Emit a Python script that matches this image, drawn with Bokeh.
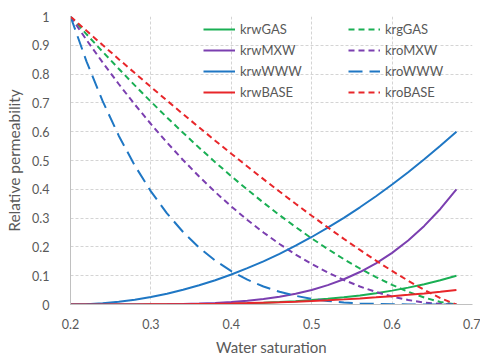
from bokeh.plotting import figure
from bokeh.models import Legend, LegendItem, FixedTicker, ColumnDataSource
from bokeh.embed import file_html
from bokeh.resources import INLINE

# Water saturation
sw = [0.20, 0.22, 0.24, 0.26, 0.28, 0.30, 0.32, 0.34, 0.36, 0.38, 0.40, 0.42, 0.44,
      0.46, 0.48, 0.50, 0.52, 0.54, 0.56, 0.58, 0.60, 0.62, 0.64, 0.66, 0.68]

krw_gas = [0, 0, 0.0000, 0.0000, 0.0001, 0.0002, 0.0004, 0.0007, 0.0012, 0.0020, 0.0030,
           0.0044, 0.0063, 0.0086, 0.0116, 0.0153, 0.0198, 0.0252, 0.0316, 0.0393, 0.0482,
           0.0586, 0.0706, 0.0844, 0.1000]
krg_gas = [1.0, 0.9382, 0.8777, 0.8185, 0.7607, 0.7044, 0.6495, 0.5962, 0.5443, 0.4941,
           0.4455, 0.3987, 0.3536, 0.3103, 0.2690, 0.2296, 0.1925, 0.1575, 0.1250, 0.0951,
           0.0680, 0.0442, 0.0241, 0.0085, 0.0]
krw_mxw = [0, 0, 0.0000, 0.0000, 0.0002, 0.0004, 0.0009, 0.0018, 0.0032, 0.0053, 0.0085,
           0.0129, 0.0189, 0.0270, 0.0373, 0.0506, 0.0672, 0.0877, 0.1128, 0.1431, 0.1793,
           0.2223, 0.2728, 0.3317, 0.4000]
kro_mxw = [1.0, 0.9184, 0.8403, 0.7656, 0.6944, 0.6267, 0.5625, 0.5017, 0.4444, 0.3906,
           0.3403, 0.2934, 0.2500, 0.2101, 0.1736, 0.1406, 0.1111, 0.0851, 0.0625, 0.0434,
           0.0278, 0.0156, 0.0069, 0.0017, 0.0]
krw_www = [0, 0.0010, 0.0042, 0.0094, 0.0167, 0.0260, 0.0375, 0.0511, 0.0667, 0.0844,
           0.1042, 0.1261, 0.1500, 0.1760, 0.2042, 0.2344, 0.2667, 0.3010, 0.3375, 0.3760,
           0.4167, 0.4594, 0.5042, 0.5510, 0.6000]
kro_www = [1.0, 0.8435, 0.7061, 0.5862, 0.4823, 0.3928, 0.3164, 0.2517, 0.1975, 0.1526,
           0.1158, 0.0861, 0.0625, 0.0441, 0.0301, 0.0198, 0.0123, 0.0072, 0.0039, 0.0019,
           0.0008, 0.0002, 0.0000, 0.0, 0.0]
krw_base = [0, 0.0000, 0.0000, 0.0001, 0.0002, 0.0005, 0.0008, 0.0012, 0.0019, 0.0026,
            0.0036, 0.0048, 0.0063, 0.0079, 0.0099, 0.0122, 0.0148, 0.0178, 0.0211, 0.0248,
            0.0289, 0.0335, 0.0385, 0.0440, 0.0500]
kro_base = [1.0, 0.9502, 0.9009, 0.8519, 0.8035, 0.7555, 0.7081, 0.6611, 0.6147, 0.5689,
            0.5237, 0.4792, 0.4353, 0.3921, 0.3497, 0.3082, 0.2676, 0.2280, 0.1895, 0.1522,
            0.1165, 0.0825, 0.0507, 0.0221, 0.0]

x_ticks = [0.2, 0.3, 0.4, 0.5, 0.6, 0.7]
x_tick_labels = ["0.2", "0.3", "0.4", "0.5", "0.6", "0.7"]
y_ticks = [0.0, 0.1, 0.2, 0.3, 0.4, 0.5, 0.6, 0.7, 0.8, 0.9, 1.0]
y_tick_labels = ["0", "0.1", "0.2", "0.3", "0.4", "0.5", "0.6", "0.7", "0.8", "0.9", "1"]

GREEN = "#1aaf54"
PURPLE = "#7b3fb0"
BLUE = "#1f77c4"
RED = "#e8262a"
TEXT = "#595959"
FONT = "Lato"

src = ColumnDataSource(dict(sw=sw, krw_gas=krw_gas, krg_gas=krg_gas, krw_mxw=krw_mxw,
                            kro_mxw=kro_mxw, krw_www=krw_www, kro_www=kro_www,
                            krw_base=krw_base, kro_base=kro_base))

p = figure(width=480, height=358, x_range=(0.2, 0.7), y_range=(0, 1),
           output_backend="svg", toolbar_location=None,
           min_border_left=70, min_border_right=8, min_border_top=16, min_border_bottom=53)
p.outline_line_color = None
p.background_fill_color = "white"
p.border_fill_color = "white"

for ax, ticks, labels in ((p.xaxis[0], x_ticks, x_tick_labels), (p.yaxis[0], y_ticks, y_tick_labels)):
    ax.ticker = FixedTicker(ticks=ticks)
    ax.major_label_overrides = {t: l for t, l in zip(ticks, labels)}
    ax.major_tick_line_color = None
    ax.minor_tick_line_color = None
    ax.axis_line_color = "#c0c0c0"
    ax.major_label_text_color = TEXT
    ax.major_label_text_font = FONT
    ax.major_label_text_font_size = "12.5px"
    ax.axis_label_text_color = TEXT
    ax.axis_label_text_font = FONT
    ax.axis_label_text_font_size = "15px"
    ax.axis_label_text_font_style = "normal"

p.yaxis.axis_label_text_font_size = "15.5px"
p.xaxis.axis_label = "Water saturation"
p.yaxis.axis_label = "Relative permeability"
p.xaxis.major_label_standoff = 8
p.xaxis.axis_label_standoff = 6
p.yaxis.major_label_standoff = 15
p.yaxis.axis_label_standoff = 6

p.grid.grid_line_color = "#d4d4d4"
p.grid.grid_line_dash = "3 2"
p.grid.grid_line_width = 1

SHORT = "6 4"
LONG = "14 7"
W = 2

r_kwg = p.line("sw", "krw_gas", source=src, color=GREEN, line_width=W)
r_kgg = p.line("sw", "krg_gas", source=src, color=GREEN, line_width=W, line_dash=SHORT)
r_kwm = p.line("sw", "krw_mxw", source=src, color=PURPLE, line_width=W)
r_kom = p.line("sw", "kro_mxw", source=src, color=PURPLE, line_width=W, line_dash=SHORT)
r_kww = p.line("sw", "krw_www", source=src, color=BLUE, line_width=W)
r_kow = p.line("sw", "kro_www", source=src, color=BLUE, line_width=W, line_dash=LONG)
r_kwb = p.line("sw", "krw_base", source=src, color=RED, line_width=W)
r_kob = p.line("sw", "kro_base", source=src, color=RED, line_width=W, line_dash=SHORT)

def make_legend(items, loc):
    lg = Legend(items=items, location=loc, orientation="vertical",
                glyph_width=32, glyph_height=14, label_height=14, spacing=5,
                label_standoff=5, padding=0, margin=0,
                border_line_color=None, background_fill_alpha=0,
                label_text_font=FONT, label_text_font_size="13px",
                label_text_color=TEXT, label_text_baseline="middle")
    return lg

leg1 = make_legend([LegendItem(label="krwGAS", renderers=[r_kwg]),
                    LegendItem(label="krwMXW", renderers=[r_kwm]),
                    LegendItem(label="krwWWW", renderers=[r_kww]),
                    LegendItem(label="krwBASE", renderers=[r_kwb])], (133, 204))
leg2 = make_legend([LegendItem(label="krgGAS", renderers=[r_kgg]),
                    LegendItem(label="kroMXW", renderers=[r_kom]),
                    LegendItem(label="kroWWW", renderers=[r_kow]),
                    LegendItem(label="kroBASE", renderers=[r_kob])], (278, 204))
p.add_layout(leg1, "center")
p.add_layout(leg2, "center")

open("out.html", "w").write(file_html(p, INLINE))
